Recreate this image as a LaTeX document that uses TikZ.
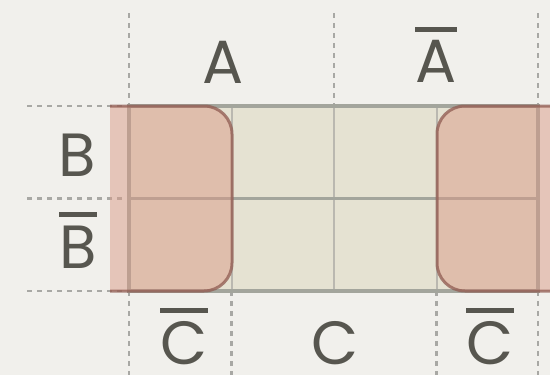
\documentclass[tikz,border=0pt]{standalone}
\usepackage{fontspec}
\setmainfont{Poppins}
\usepackage{tikz}
\usepackage{xcolor}
\definecolor{paper}{HTML}{F1F0EC}
\definecolor{cellbeige}{HTML}{E5E2D2}
\definecolor{gridgrey}{HTML}{A3A59C}
\definecolor{innergrey}{HTML}{BAB8B0}
\definecolor{dashgrey}{HTML}{A8A8A4}
\definecolor{grpred}{HTML}{DA9B88}
\definecolor{grpedge}{HTML}{8F5A50}
\definecolor{inkgrey}{HTML}{57564F}
\newcommand{\ovbar}[1]{\setbox0\hbox{#1}\rlap{\raisebox{\dimexpr\ht0+8pt\relax}{\rule{\wd0}{5pt}}}\box0}

\begin{document}
\begin{tikzpicture}[x=1pt,y=-1pt,
  lbl/.style={anchor=base, inner sep=0pt, text=inkgrey, font=\fontsize{61}{61}\selectfont},
  guide/.style={draw=dashgrey, line width=2.8pt, dash pattern=on 5pt off 5pt},
  inner/.style={draw=innergrey, line width=2pt},
  border/.style={draw=gridgrey, line width=3.5pt},
  grp/.style={fill=grpred, fill opacity=0.5, draw=grpedge, draw opacity=0.75,
              line width=3pt, rounded corners=28pt},
]
\fill[paper] (0,0) rectangle (550,375);
\useasboundingbox (0,0) rectangle (550,375);
% dashed guides
\draw[guide] (129,13) -- (129,106);
\draw[guide] (334,13) -- (334,106);
\draw[guide] (538,13) -- (538,106);
\draw[guide] (129,291) -- (129,380);
\draw[guide] (231.5,291) -- (231.5,380);
\draw[guide] (436.5,291) -- (436.5,380);
\draw[guide] (538,291) -- (538,380);
\draw[guide] (27,106) -- (129,106);
\draw[guide] (27,198.5) -- (129,198.5);
\draw[guide] (27,291) -- (129,291);
% map cells
\fill[cellbeige] (129,106) rectangle (538,291);
\draw[inner] (231.5,106) -- (231.5,291);
\draw[inner] (334,106) -- (334,291);
\draw[inner] (436.5,106) -- (436.5,291);
\draw[border, line width=2.5pt] (129,198.5) -- (538,198.5);
\draw[border] (129,106) rectangle (538,291);
% wrap-around group
\begin{scope}
  \clip (110,90) rectangle (300,310);
  \draw[grp] (60,106) rectangle (232,291);
\end{scope}
\begin{scope}
  \clip (400,90) rectangle (550,310);
  \draw[grp] (437,106) rectangle (600,291);
\end{scope}
% variable labels
\node[lbl] (lblA)   at (223,83)   {A};
\node[lbl] (lblnA)  at (436,82)   {\ovbar{A}};
\node[lbl] (lblB)   at (77,176)   {B};
\node[lbl] (lblnB)  at (78,268)   {\ovbar{B}};
\node[lbl] (lblnCl) at (184,364)  {\ovbar{C}};
\node[lbl] (lblC)   at (335,364) {C};
\node[lbl] (lblnCr) at (490,364) {\ovbar{C}};
\end{tikzpicture}
\end{document}
